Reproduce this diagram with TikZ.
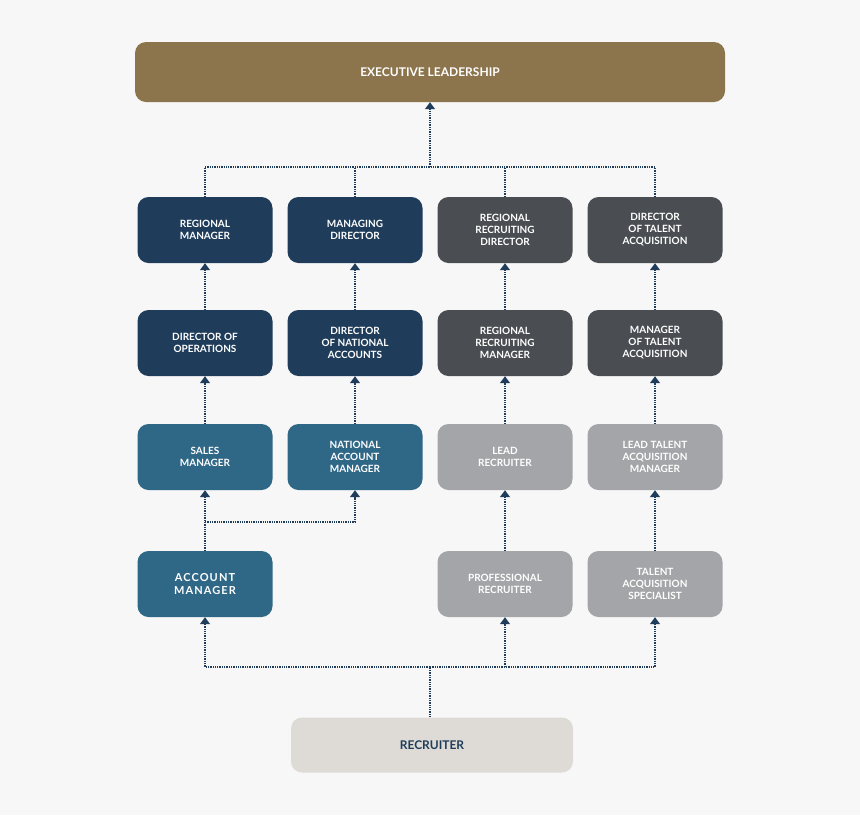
\documentclass[tikz,border=0pt]{standalone}
\usepackage{fontspec}
\setmainfont{Lato}
\usetikzlibrary{arrows.meta}
\definecolor{bg}{HTML}{F7F7F7}
\definecolor{navy}{HTML}{1F3D5A}
\definecolor{midb}{HTML}{2F6787}
\definecolor{dgray}{HTML}{4A4D52}
\definecolor{lgray}{HTML}{A4A5A8}
\definecolor{gold}{HTML}{8C744C}
\definecolor{recr}{HTML}{DEDBD6}
\begin{document}
\begin{tikzpicture}[x=1pt,y=-1pt,
 box/.style={rounded corners=11pt,minimum width=135pt,minimum height=66pt,text=white,font=\bfseries\fontsize{10}{12}\selectfont,align=center,inner sep=2pt},
 nv/.style={box,fill=navy},mb/.style={box,fill=midb},dg/.style={box,fill=dgray},lg/.style={box,fill=lgray},
 con/.style={draw=navy,densely dotted,line width=1.3pt},
 arr/.style={con,-{Triangle[width=10pt,length=7pt]}}]
\fill[bg] (0,0) rectangle (860,815);
\node[box,fill=gold,minimum width=590pt,minimum height=60pt,font=\bfseries\fontsize{12}{14}\selectfont] (ex) at (430,72) {EXECUTIVE LEADERSHIP};
\node[box,fill=recr,text=navy,minimum width=282pt,minimum height=55pt,font=\bfseries\fontsize{12}{14}\selectfont] (rc) at (432,745) {RECRUITER};
\node[nv] (a1) at (205,230) {REGIONAL\\MANAGER};
\node[nv] (b1) at (355,230) {MANAGING\\DIRECTOR};
\node[dg] (c1) at (505,230) {REGIONAL\\RECRUITING\\DIRECTOR};
\node[dg] (d1) at (655,230) {DIRECTOR\\OF TALENT\\ACQUISITION};
\node[nv] (a2) at (205,343) {DIRECTOR OF\\OPERATIONS};
\node[nv] (b2) at (355,343) {DIRECTOR\\OF NATIONAL\\ACCOUNTS};
\node[dg] (c2) at (505,343) {REGIONAL\\RECRUITING\\MANAGER};
\node[dg] (d2) at (655,343) {MANAGER\\OF TALENT\\ACQUISITION};
\node[mb] (a3) at (205,457) {SALES\\MANAGER};
\node[mb] (b3) at (355,457) {NATIONAL\\ACCOUNT\\MANAGER};
\node[lg] (c3) at (505,457) {LEAD\\RECRUITER};
\node[lg] (d3) at (655,457) {LEAD TALENT\\ACQUISITION\\MANAGER};
\node[mb,font=\bfseries\fontsize{11}{13}\selectfont\addfontfeature{LetterSpace=10}] (a4) at (205,584) {ACCOUNT\\MANAGER};
\node[lg] (c4) at (505,584) {PROFESSIONAL\\RECRUITER};
\node[lg] (d4) at (655,584) {TALENT\\ACQUISITION\\SPECIALIST};
\coordinate (t) at (430,167);
\draw[con] (a1.north) |- (t) -| (d1.north);
\draw[con] (b1.north) -- (b1.north|-t);
\draw[con] (c1.north) -- (c1.north|-t);
\draw[arr] (t) -- (ex.south);
\foreach \u/\v in {a2/a1,b2/b1,c2/c1,d2/d1,a3/a2,b3/b2,c3/c2,d3/d2,a4/a3,c4/c3,d4/d3} \draw[arr] (\u.north) -- (\v.south);
\coordinate (m) at (205,522);
\draw[arr] (m) -| (b3.south);
\coordinate (bt) at (430,667);
\draw[con] (rc.north-|bt) -- (bt);
\draw[arr] (bt) -| (a4.south);
\draw[arr] (bt) -| (d4.south);
\draw[arr] (c4.south|-bt) -- (c4.south);
\end{tikzpicture}
\end{document}
